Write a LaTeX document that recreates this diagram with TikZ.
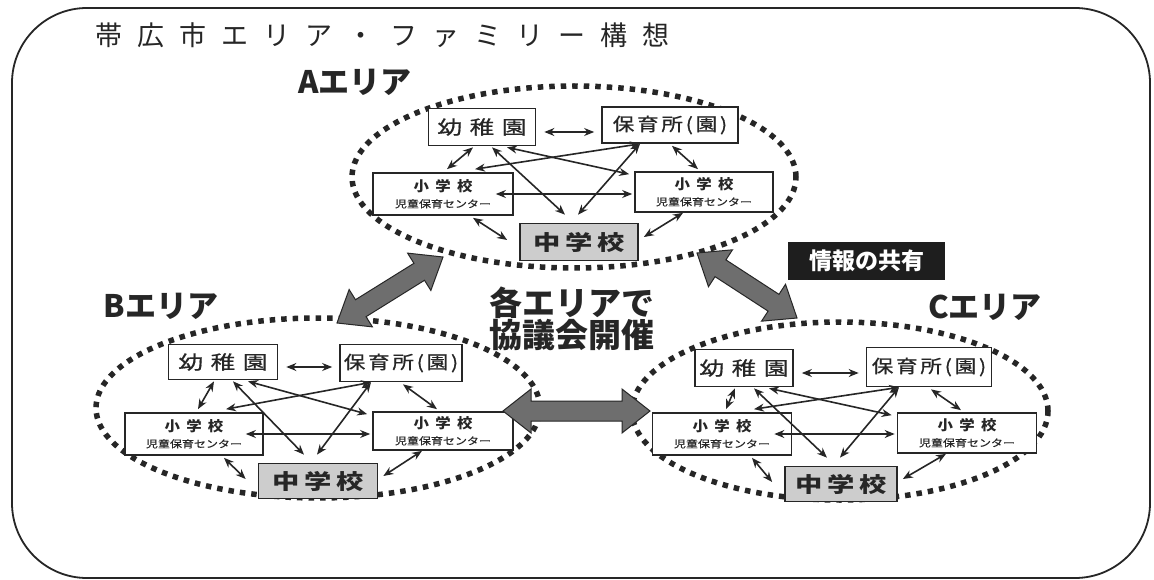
\documentclass[tikz,border=0pt]{standalone}
\usepackage{fontspec}
\newfontfamily\jp{Noto Sans CJK JP}
\usetikzlibrary{arrows.meta,calc,shapes.geometric}
\definecolor{ink}{HTML}{262626}
\definecolor{bigfill}{HTML}{6E6E6E}
\definecolor{chufill}{HTML}{CDCDCD}
\definecolor{infofill}{HTML}{1E1E1E}

\tikzset{
 frame/.style={draw=ink, line width=1.8pt, rounded corners=75pt},
 ring/.style={ellipse, draw=ink, line width=5.5pt, dash pattern=on 5.5pt off 6pt, inner sep=0pt},
 box/.style={rectangle, draw=ink, line width=1.7pt, fill=white, inner sep=0pt, text=ink},
 kbox/.style={box, font=\jp\fontsize{19}{19}\selectfont\addfontfeature{FakeStretch=1.3,LetterSpace=40,FakeBold=0.6}},
 hbox/.style={box, font=\jp\fontsize{18}{18}\selectfont\addfontfeature{FakeStretch=1.2,LetterSpace=15,FakeBold=0.6}},
 sbox/.style={box, align=center, font=\jp\fontsize{10}{10}\selectfont},
 cbox/.style={box, fill=chufill, font=\jp\bfseries\fontsize{21}{21}\selectfont\addfontfeature{FakeStretch=1.3,LetterSpace=24}},
 sarr/.style={draw=ink, line width=1.6pt, {Stealth[length=10pt,width=8pt]}-{Stealth[length=10pt,width=8pt]}},
 bigarr/.style={fill=bigfill, draw=ink, line width=1pt, line join=miter},
 area/.style={inner sep=0pt, text=ink, font=\jp\bfseries\fontsize{31}{31}\selectfont},
 titletext/.style={inner sep=0pt, text=ink, anchor=west, font=\jp\fontsize{27}{27}\selectfont\addfontfeature{LetterSpace=56}},
 centertext/.style={inner sep=0pt, text=ink, align=center, font=\jp\bfseries\fontsize{33}{30}\selectfont},
 info/.style={fill=infofill, text=white, inner sep=0pt, font=\jp\bfseries\fontsize{23}{23}\selectfont}
}

\newcommand\ShoText{{\bfseries\fontsize{14}{14}\selectfont\addfontfeature{FakeStretch=1.1,LetterSpace=45}小学校}\\[6pt]{\fontsize{10}{10}\selectfont\addfontfeature{FakeStretch=1.2,FakeBold=0.4}児童保育センター}}

\newcommand\GrpArrows[1]{%
 \draw[sarr] ($(#1k.east)+(8,5)$) -- ($(#1k.east -| #1h.west)+(-7,5)$);
 \draw[sarr] ($(#1k.south)+(-9,1)$) -- ($(#1sL.north)+(4,-3)$);
 \draw[sarr] ($(#1k.south)+(10,1)$) -- ($(#1c.north)+(-14,-8)$);
 \draw[sarr] ($(#1k.south)+(25,1)$) -- ($(#1sR.north west)+(-5,3)$);
 \draw[sarr] ($(#1h.south)+(-30,0)$) -- ($(#1sL.north)+(32,-3)$);
 \draw[sarr] ($(#1h.south)+(-30,0)$) -- ($(#1c.north)+(-1,-8)$);
 \draw[sarr] ($(#1h.south)+(2,2)$) -- ($(#1sR.north)+(-6,-2)$);
 \draw[sarr] ($(#1sL.east)+(-18,0)$) -- ($(#1sL.east -| #1sR.west)+(-2,0)$);
 \draw[sarr] ($(#1sL.south)+(30,2)$) -- ($(#1c.west)+(-12,-2)$);
 \draw[sarr] ($(#1sR.south)+(-21,0)$) -- ($(#1c.east)+(5,-5)$);
}

\newcommand\BigArr[2]{%
 \coordinate (h1) at ($(#1)!28pt!(#2)$);
 \coordinate (h2) at ($(#2)!28pt!(#1)$);
 \draw[bigarr] (#1) -- ($(h1)!22pt!90:(#2)$) -- ($(h1)!10pt!90:(#2)$)
   -- ($(h2)!10pt!-90:(#1)$) -- ($(h2)!22pt!-90:(#1)$) -- (#2)
   -- ($(h2)!22pt!90:(#1)$) -- ($(h2)!10pt!90:(#1)$)
   -- ($(h1)!10pt!-90:(#2)$) -- ($(h1)!22pt!-90:(#2)$) -- cycle;
}

\begin{document}
\begin{tikzpicture}[x=1pt, y=-1pt]
\useasboundingbox (0,0) rectangle (1154,580);
\fill[white] (0,0) rectangle (1154,580);

% outer frame
\draw[frame] (12,8) rectangle (1150,578);

% title
\node[titletext] (title) at (95,35) {帯広市エリア・ファミリー構想};

% area rings
\node[ring, minimum width=444pt, minimum height=182pt] (Aring) at (574,177) {};
\node[ring, minimum width=444pt, minimum height=180pt] (Bring) at (318,408) {};
\node[ring, minimum width=416pt, minimum height=178pt] (Cring) at (840,411) {};

% area A
\node[kbox, minimum width=107pt, minimum height=37pt] (Ak) at (482,127) {幼稚園};
\node[hbox, minimum width=136pt, minimum height=36pt] (Ah) at (670,125) {保育所(園)};
\node[sbox, minimum width=140pt, minimum height=42pt] (AsL) at (443,194) {\ShoText};
\node[sbox, minimum width=138pt, minimum height=40pt] (AsR) at (704,192) {\ShoText};
\node[cbox, minimum width=118pt, minimum height=37pt] (Ac) at (579,242) {中学校};

% area B
\node[kbox, minimum width=109pt, minimum height=35pt] (Bk) at (223,362) {幼稚園};
\node[hbox, minimum width=122pt, minimum height=37pt] (Bh) at (401,363) {保育所(園)};
\node[sbox, minimum width=138pt, minimum height=42pt] (BsL) at (194,434) {\ShoText};
\node[sbox, minimum width=140pt, minimum height=38pt] (BsR) at (443,431) {\ShoText};
\node[cbox, minimum width=119pt, minimum height=35pt] (Bc) at (318,481) {中学校};

% area C
\node[kbox, minimum width=98pt, minimum height=37pt] (Ck) at (744,368) {幼稚園};
\node[hbox, minimum width=125pt, minimum height=39pt] (Ch) at (929,367) {保育所(園)};
\node[sbox, minimum width=139pt, minimum height=42pt] (CsL) at (722,434) {\ShoText};
\node[sbox, minimum width=139pt, minimum height=40pt] (CsR) at (967,433) {\ShoText};
\node[cbox, minimum width=112pt, minimum height=35pt] (Cc) at (841,484) {中学校};

\GrpArrows{A}
\GrpArrows{B}
\GrpArrows{C}

% big arrows between areas
\coordinate (ab1) at (443,257);
\coordinate (ab2) at (337,323);
\coordinate (ac1) at (697,253);
\coordinate (ac2) at (797,318);
\coordinate (bc1) at (503,411);
\coordinate (bc2) at (650,411);
\BigArr{ab1}{ab2}
\BigArr{ac1}{ac2}
\BigArr{bc1}{bc2}

% labels
\node[area] (Alab) at (355,82) {Aエリア};
\node[area] (Blab) at (161,306) {Bエリア};
\node[area] (Clab) at (985,307) {Cエリア};
\node[centertext] (center) at (572,319) {各エリアで\\協議会開催};
\node[info, minimum width=157pt, minimum height=38pt] (info) at (866.5,261) {\raisebox{-4pt}{情報の共有}\hspace{16pt}};
\end{tikzpicture}
\end{document}
